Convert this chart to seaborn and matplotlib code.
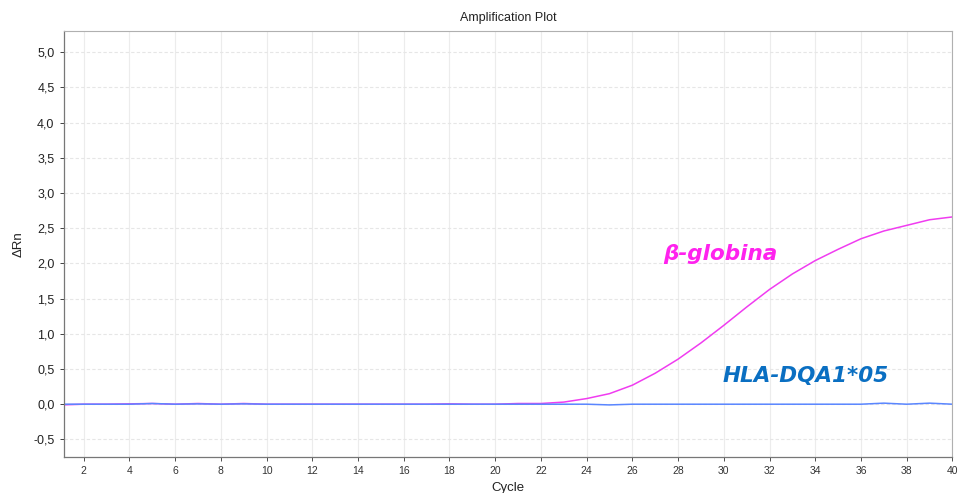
import numpy as np
import pandas as pd
import matplotlib
matplotlib.use("Agg")
import matplotlib.pyplot as plt
import seaborn as sns
from matplotlib.ticker import FuncFormatter, MultipleLocator

# ciclos y valores
cycles = list(range(1, 41))
beta_globina = [-0.01, 0.0, 0.0, 0.005, 0.01, 0.0, 0.01, 0.0, 0.01, 0.0,
                0.0, 0.0, 0.0, 0.0, 0.0, 0.0, 0.0, 0.005, 0.0, 0.0,
                0.01, 0.01, 0.03, 0.08, 0.15, 0.27, 0.44, 0.64, 0.87, 1.12,
                1.38, 1.63, 1.85, 2.04, 2.20, 2.35, 2.46, 2.54, 2.62, 2.66]
hla_dqa1 = [0.0, 0.0, 0.0, 0.0, 0.01, 0.0, 0.005, 0.0, 0.005, 0.0,
            0.0, 0.0, 0.0, 0.0, 0.0, 0.0, 0.0, 0.0, 0.0, 0.0,
            0.0, 0.0, 0.0, 0.0, -0.01, 0.0, 0.0, 0.0, 0.0, 0.0,
            0.0, 0.0, 0.0, 0.0, 0.0, 0.0, 0.015, 0.0, 0.015, 0.0]
targets = ["β-globina", "HLA-DQA1*05"]

df = pd.DataFrame({
    "Cycle": cycles * 2,
    "dRn": beta_globina + hla_dqa1,
    "target": [targets[0]] * len(cycles) + [targets[1]] * len(cycles),
})

sns.set_style("white")
plt.rcParams["font.family"] = ["Liberation Sans", "DejaVu Sans"]

fig, ax = plt.subplots(figsize=(9.63, 4.93), dpi=100)
fig.subplots_adjust(left=0.066, right=0.989, top=0.937, bottom=0.073)

sns.lineplot(data=df, x="Cycle", y="dRn", hue="target",
             palette={targets[0]: "#f03cf0", targets[1]: "#5a86ff"},
             linewidth=1.1, legend=False, ax=ax)

ax.set_xlim(1.12, 40)
ax.set_ylim(-0.75, 5.3)
ax.xaxis.set_major_locator(MultipleLocator(2))
ax.yaxis.set_major_locator(MultipleLocator(0.5))
ax.yaxis.set_major_formatter(FuncFormatter(lambda v, p: f"{v:.1f}".replace(".", ",")))

ax.grid(axis="x", color="#ececec", linewidth=0.8)
ax.grid(axis="y", color="#e6e6e6", linewidth=0.8, linestyle=(0, (3, 2)))
ax.tick_params(axis="x", labelsize=7.5, colors="#333333", length=3, width=0.6, bottom=True)
ax.tick_params(axis="y", labelsize=9, colors="#222222", length=3, width=0.6, left=True)

for side in ["left", "bottom"]:
    ax.spines[side].set_color("#777777")
    ax.spines[side].set_linewidth(0.9)
for side in ["top", "right"]:
    ax.spines[side].set_color("#b0b0b0")
    ax.spines[side].set_linewidth(0.8)

ax.set_title("Amplification Plot", fontsize=9, color="#222222", pad=7)
ax.set_xlabel("Cycle", fontsize=9.5, color="#222222", labelpad=4)
ax.set_ylabel("ΔRn", fontsize=9.5, color="#222222", labelpad=6)

ax.text(27.35, 2.14, "β-globina", color="#ff22ee", fontsize=15.5,
        fontstyle="italic", fontweight="bold", va="center", ha="left",
        family=["DejaVu Sans"])
ax.text(29.95, 0.40, "HLA-DQA1*05", color="#0a6fc2", fontsize=15.5,
        fontstyle="italic", fontweight="bold", va="center", ha="left",
        family=["DejaVu Sans"])

plt.savefig("out.png", dpi=100)
